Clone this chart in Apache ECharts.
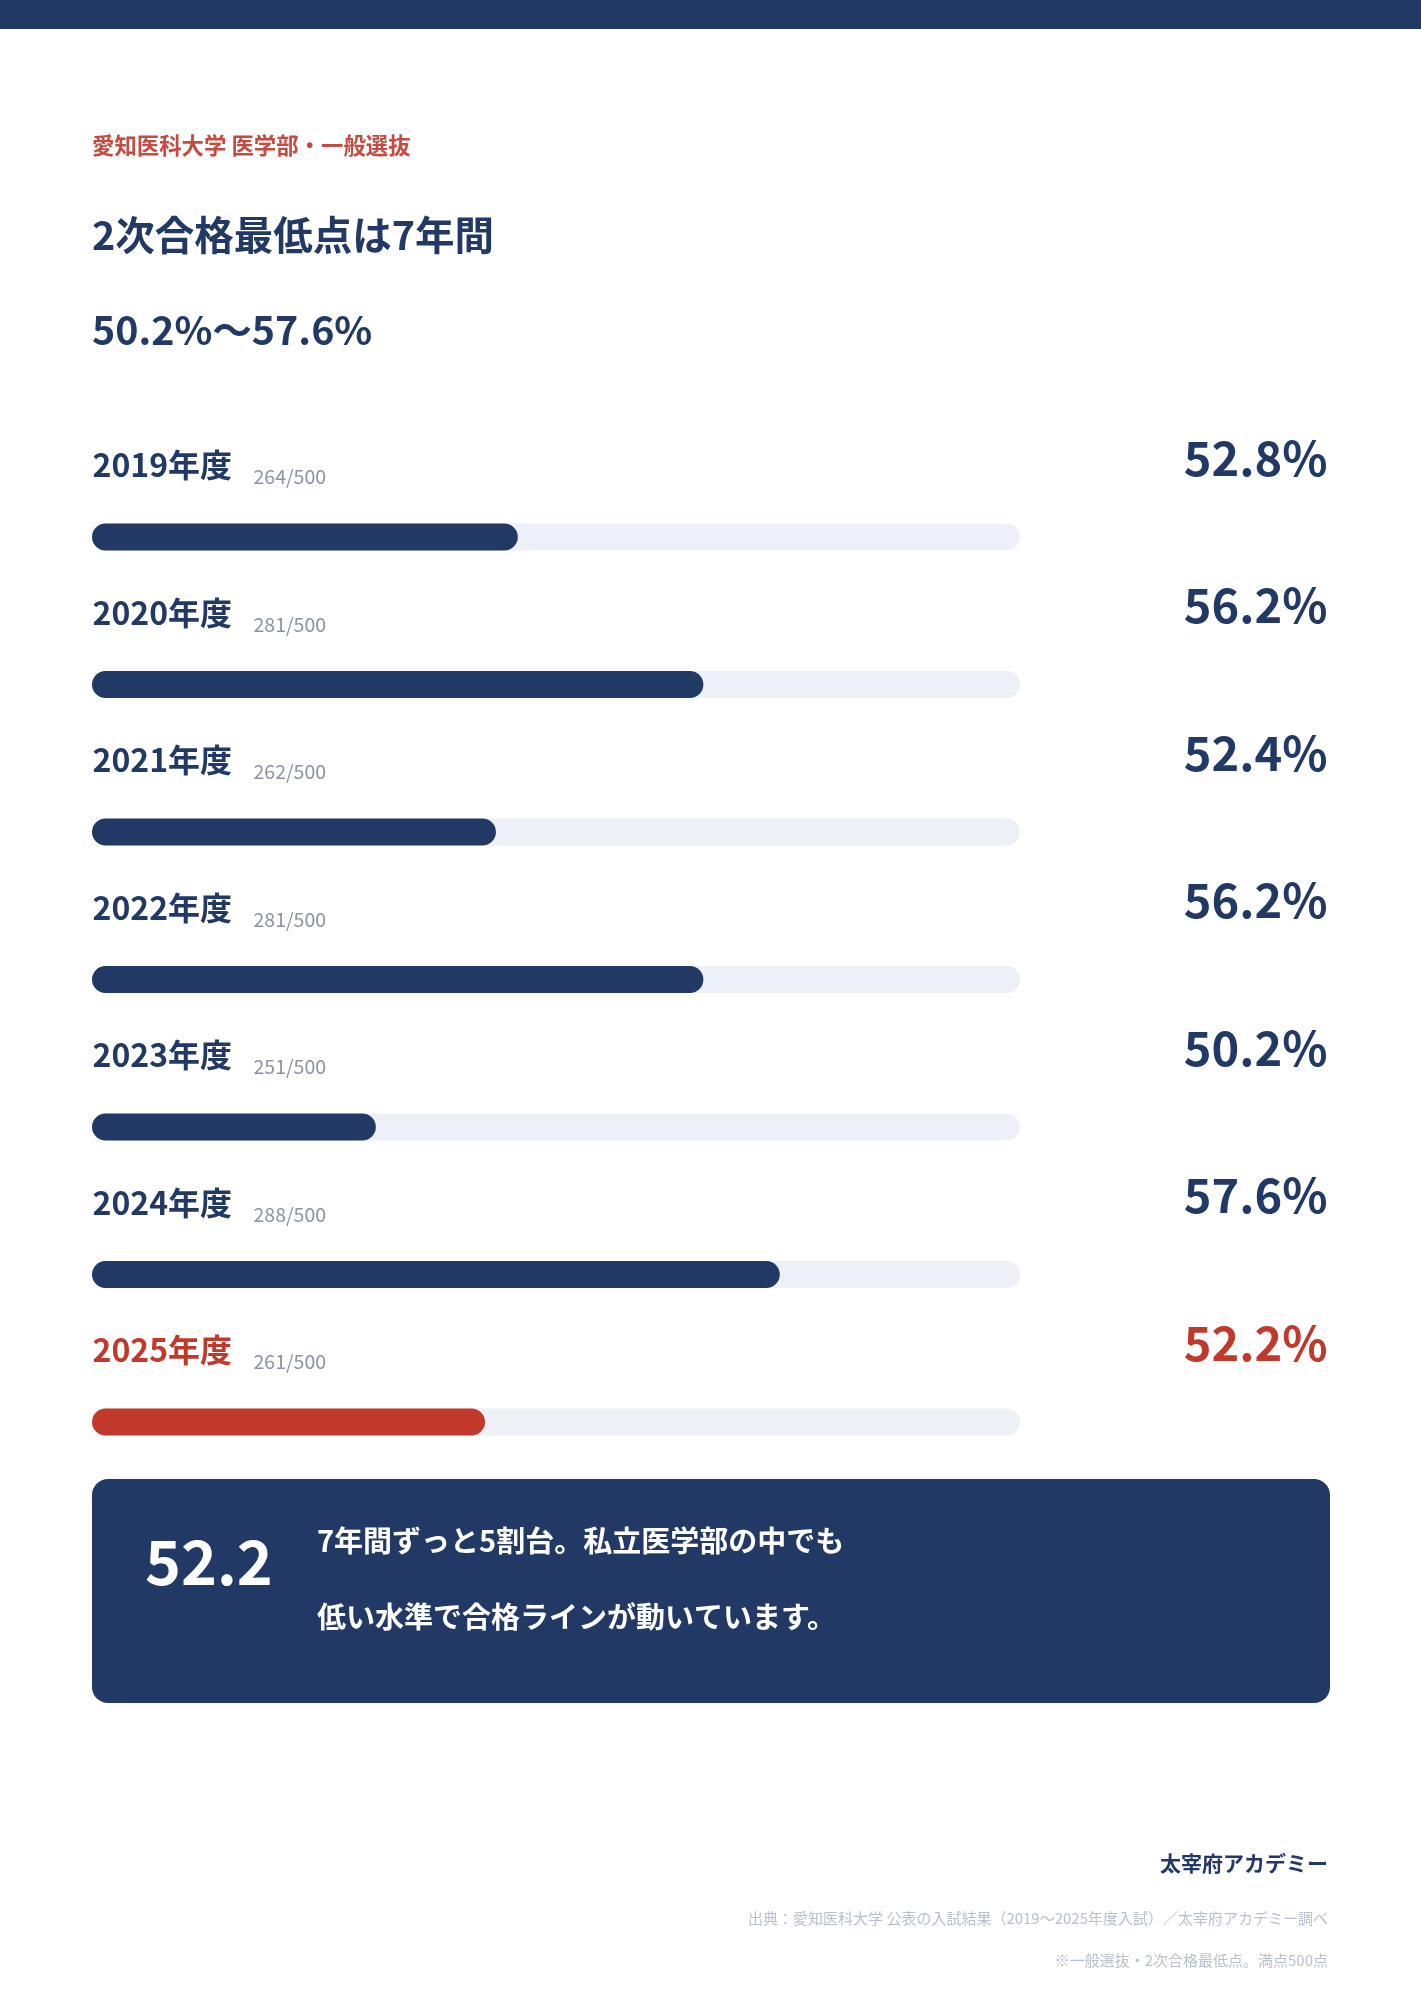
<!DOCTYPE html>
<html><head><meta charset="utf-8">
<script src="https://cdn.jsdelivr.net/npm/echarts@6/dist/echarts.min.js"></script>
<style>html,body{margin:0;padding:0;background:#fff;}#c{width:1421px;height:2000px;}</style>
</head><body><div id="c"></div>
<script>
const years = ['2019年度','2020年度','2021年度','2022年度','2023年度','2024年度','2025年度'];
const scores = [264, 281, 262, 281, 251, 288, 261];
const fullScore = 500;
const percents = [52.8, 56.2, 52.4, 56.2, 50.2, 57.6, 52.2];
const axisMin = 45, axisMax = 62;

const NAVY = '#213964', RED = '#c0392b', TRACK = '#edf0f7', GRAY = '#8b93a4', LIGHT = '#b9c0cd';
const FONT = '"Noto Sans CJK JP", "Noto Sans", sans-serif';
const last = years.length - 1;
const lo = Math.min(...percents), hi = Math.max(...percents);

const chart = echarts.init(document.getElementById('c'), null, {renderer: 'canvas'});
const txt = (x, y, text, size, weight, fill, align) => ({
  type: 'text', x, y, silent: true,
  style: {text, fill, font: `${weight} ${size}px ${FONT}`, align: align || 'left', verticalAlign: 'middle'}
});
const hiddenDot = {color: 'rgba(0,0,0,0)', opacity: 1};

chart.setOption({
  animation: false,
  textStyle: {fontFamily: FONT},
  grid: {left: 92, right: 401, top: 463.25, bottom: 504.25},
  xAxis: {type: 'value', min: axisMin, max: axisMax, show: false},
  yAxis: {type: 'category', data: years, inverse: true, show: false},
  series: [
    {
      type: 'bar', barWidth: 27,
      showBackground: true,
      backgroundStyle: {color: TRACK, borderRadius: 13.5},
      data: percents.map((v, i) => ({value: v, itemStyle: {color: i === last ? RED : NAVY, borderRadius: 13.5}}))
    },
    {
      type: 'scatter', symbolSize: 1, itemStyle: hiddenDot, silent: true,
      data: years.map((y, i) => ({value: [axisMin, y], label: {color: i === last ? RED : NAVY}})),
      label: {show: true, position: 'right', distance: 0, offset: [0, -72], fontSize: 32, fontWeight: 'bold',
        formatter: p => years[p.dataIndex]}
    },
    {
      type: 'scatter', symbolSize: 1, itemStyle: hiddenDot, silent: true,
      data: years.map(y => [axisMin, y]),
      label: {show: true, position: 'right', distance: 0, offset: [161, -60], fontSize: 19.5, color: GRAY,
        formatter: p => scores[p.dataIndex] + '/' + fullScore}
    },
    {
      type: 'scatter', symbolSize: 1, itemStyle: hiddenDot, silent: true,
      data: years.map((y, i) => ({value: [axisMax, y], label: {color: i === last ? RED : NAVY}})),
      label: {show: true, position: 'left', distance: 0, offset: [308, -79], fontSize: 47, fontWeight: 'bold',
        formatter: p => percents[p.dataIndex].toFixed(1) + '%'}
    }
  ],
  graphic: [
    {type: 'rect', shape: {x: 0, y: 0, width: 1421, height: 29}, style: {fill: NAVY}, silent: true},
    txt(92, 145, '愛知医科大学 医学部・一般選抜', 22.4, 'bold', '#c64a40'),
    txt(92, 235, '2次合格最低点は' + years.length + '年間', 39.5, 'bold', NAVY),
    txt(92, 330, lo.toFixed(1) + '%〜' + hi.toFixed(1) + '%', 39.4, 'bold', NAVY),
    {type: 'rect', shape: {x: 92, y: 1479, width: 1238, height: 224, r: 16}, style: {fill: NAVY}, silent: true},
    txt(145, 1562, percents[last].toFixed(1), 61, 'bold', '#ffffff'),
    txt(317, 1541, '7年間ずっと5割台。私立医学部の中でも', 29, 'bold', '#ffffff'),
    txt(317, 1617, '低い水準で合格ラインが動いています。', 29, 'bold', '#ffffff'),
    txt(1328, 1863, '太宰府アカデミー', 21, 'bold', NAVY, 'right'),
    txt(1328, 1918, '出典：愛知医科大学 公表の入試結果（2019〜2025年度入試）／太宰府アカデミー調べ', 15, 'normal', LIGHT, 'right'),
    txt(1328, 1960, '※一般選抜・2次合格最低点。満点500点', 15, 'normal', LIGHT, 'right')
  ]
});
</script></body></html>
